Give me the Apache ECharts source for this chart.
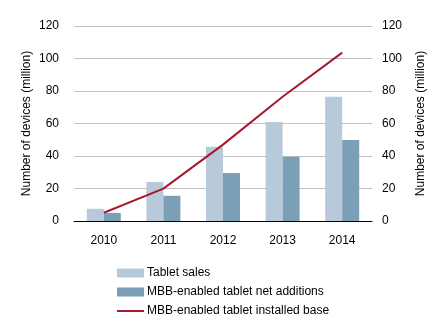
<!DOCTYPE html>
<html><head><meta charset="utf-8">
<script src="https://cdn.jsdelivr.net/npm/echarts@6/dist/echarts.min.js"></script>
<style>html,body{margin:0;padding:0;background:#fff}#c{width:448px;height:328px}</style>
</head><body><div id="c"></div>
<script>
const categories = ['2010','2011','2012','2013','2014'];
const tabletSales = [7.5, 24, 45.7, 61, 76.5];
const netAdditions = [5, 15.5, 29.5, 39.6, 49.8];
const installedBase = [5.1, 19.9, 47, 76.5, 103.6];
const yTicks = [0, 20, 40, 60, 80, 100, 120];
const axisName = 'Number of devices (million)';

const font = 'Liberation Sans, Arial, sans-serif';
const chart = echarts.init(document.getElementById('c'));
const yAxisBase = {
  type: 'value', min: yTicks[0], max: yTicks[yTicks.length-1], interval: 20,
  name: axisName, nameLocation: 'middle', nameMoveOverlap: false,
  nameTextStyle: {fontFamily: font, fontSize: 12, color: '#000'},
  axisLine: {show: false}, axisTick: {show: false},
  axisLabel: {fontFamily: font, fontSize: 12, color: '#000'},
};
chart.setOption({
  animation: false,
  textStyle: {fontFamily: font},
  grid: {left: 74, right: 76, top: 26, bottom: 107},
  xAxis: {
    type: 'category', data: categories,
    axisLine: {lineStyle: {color: '#000', width: 1}},
    axisTick: {show: false},
    axisLabel: {fontFamily: font, fontSize: 12, color: '#000', margin: 14}
  },
  yAxis: [
    Object.assign({}, yAxisBase, {position: 'left', nameGap: 41, nameRotate: 90,
      axisLabel: Object.assign({}, yAxisBase.axisLabel, {margin: 15}),
      splitLine: {lineStyle: {color: '#c0c0c0', width: 1}}}),
    Object.assign({}, yAxisBase, {position: 'right', nameGap: 43, nameRotate: 90,
      axisLabel: Object.assign({}, yAxisBase.axisLabel, {margin: 10}),
      splitLine: {show: false}})
  ],
  legend: {
    orient: 'vertical', left: 117, top: 267, itemGap: 7, padding: 0, height: 70, width: 300,
    itemWidth: 27, itemHeight: 9, icon: 'rect',
    textStyle: {fontFamily: font, fontSize: 12, color: '#000', padding: [0,0,0,-2]},
    data: [
      {name: 'Tablet sales'},
      {name: 'MBB-enabled tablet net additions'},
      {name: 'MBB-enabled tablet installed base', icon: 'path://M0,0 L27,0 L27,2 L0,2 Z'}
    ]
  },
  series: [
    {name: 'Tablet sales', type: 'bar', data: tabletSales, barWidth: 17, barGap: '0%',
      itemStyle: {color: '#b8cad9'}},
    {name: 'MBB-enabled tablet net additions', type: 'bar', data: netAdditions, barWidth: 17,
      itemStyle: {color: '#7b9fb7'}},
    {name: 'MBB-enabled tablet installed base', type: 'line', data: installedBase,
      symbol: 'none', lineStyle: {color: '#a6192e', width: 2}, itemStyle: {color: '#a6192e'}}
  ]
});
</script></body></html>
